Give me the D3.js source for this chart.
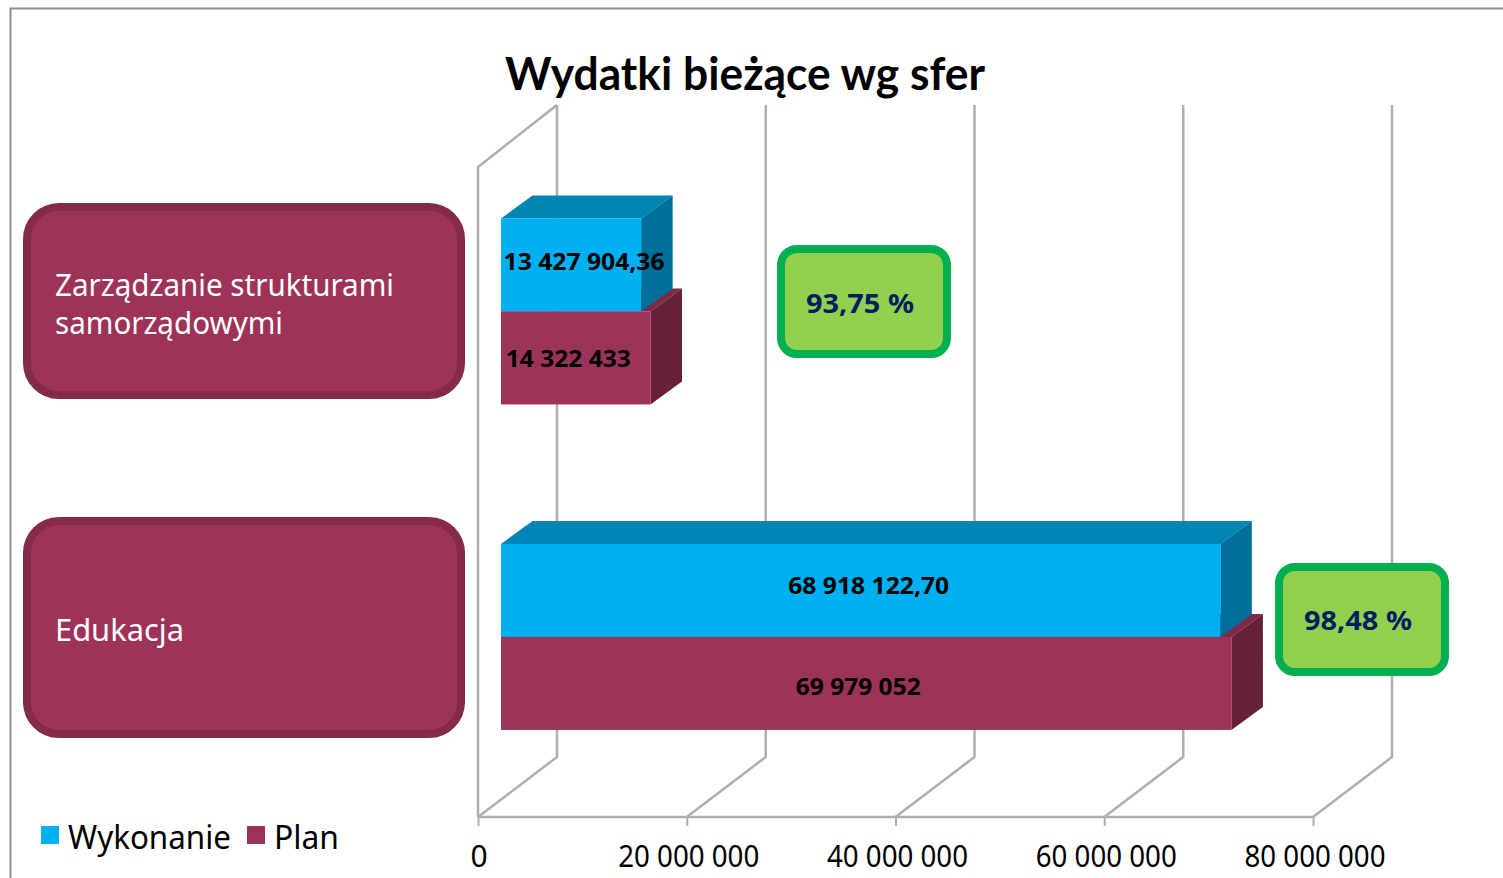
<!DOCTYPE html>
<html><head><meta charset="utf-8">
<style>html,body{margin:0;padding:0;background:#fff;overflow:hidden}svg{display:block}</style>
<script src="https://cdn.jsdelivr.net/npm/d3@7/dist/d3.min.js"></script></head>
<body><svg id="c" width="1503" height="878"></svg>
<script>
const categories = ["Zarządzanie strukturami samorządowymi", "Edukacja"];
const categoryLines = [["Zarządzanie strukturami", "samorządowymi"], ["Edukacja"]];
const seriesNames = ["Wykonanie", "Plan"];
const wykonanie = [13427904.36, 68918122.70];
const plan = [14322433, 69979052];
const wykonanieLabels = ["13 427 904,36", "68 918 122,70"];
const planLabels = ["14 322 433", "69 979 052"];
const percentLabels = ["93,75 %", "98,48 %"];
const tickValues = [0, 20000000, 40000000, 60000000, 80000000];
const tickLabels = ["0", "20 000 000", "40 000 000", "60 000 000", "80 000 000"];

const svg = d3.select("#c");
const FONT = "'Noto Sans','Open Sans',sans-serif";
const x = d3.scaleLinear().domain([0, 80000000]).range([478, 1313]);
const y = d3.scaleBand().domain(categories).range([148.7, 799.7]).paddingInner(0.4286).paddingOuter(0.2143);
const yS = d3.scaleBand().domain(seriesNames).range([0, y.bandwidth()]);
const wallDx = 79, wallDy = -60, floorY = 817, wallTop = 105;
const barX0 = 23, barDx = 31.5, barDy = -23;
const GRID = "#aeaeae";

function fit(sel, w, anchor) {
  return sel.attr("textLength", w).attr("lengthAdjust", "spacingAndGlyphs").attr("text-anchor", anchor || "start");
}

// outer frame
svg.append("path").attr("d", "M10.5,878V8.5H1503").attr("fill", "none").attr("stroke", "#8c8c8c").attr("stroke-width", 2);

// title
fit(svg.append("text").attr("x", 505).attr("y", 89.5).text("Wydatki bieżące wg sfer")
  .attr("font-family", "Lato,'Open Sans',sans-serif").attr("font-weight", 700).attr("font-size", 45).attr("fill", "#000"), 480);

// walls and gridlines
const grid = svg.append("g").attr("fill", "none").attr("stroke", GRID).attr("stroke-width", 2.5);
tickValues.forEach(v => {
  grid.append("path").attr("d", d3.line()([[x(v), floorY], [x(v) + wallDx, floorY + wallDy], [x(v) + wallDx, wallTop]]));
});
grid.append("path").attr("d", d3.line()([[x(0), floorY], [x(0), 167], [x(0) + wallDx, wallTop]]));

// axis
const axis = d3.axisBottom(x).tickValues(tickValues).tickSize(9).tickPadding(20)
  .tickFormat((d, i) => tickLabels[i]);
const ax = svg.append("g").attr("transform", `translate(0,${floorY})`).call(axis);
ax.select(".domain").attr("stroke", GRID).attr("stroke-width", 2.5).attr("d", `M${x(0)},0H${x(80000000)}`);
ax.selectAll(".tick line").attr("stroke", GRID).attr("stroke-width", 2);
ax.selectAll(".tick text").attr("font-family", FONT).attr("font-size", 30).attr("fill", "#000")
  .attr("dx", (d, i) => i ? 1.5 : 0.5)
  .each(function (d, i) { if (i) fit(d3.select(this), 141, "middle"); });

// 3D bars
const x0 = x(0) + barX0;
function top3d(g, v, yTop, c) {
  const x1 = x(v) + barX0;
  g.append("path").attr("fill", c).attr("d", d3.line()([[x0, yTop], [x0 + barDx, yTop + barDy], [x1 + barDx, yTop + barDy], [x1, yTop]]) + "Z");
}
function side3d(g, v, yTop, h, c) {
  const x1 = x(v) + barX0;
  g.append("path").attr("fill", c).attr("d", d3.line()([[x1, yTop], [x1 + barDx, yTop + barDy], [x1 + barDx, yTop + h + barDy], [x1, yTop + h]]) + "Z");
}
function front3d(g, v, yTop, h, c) {
  g.append("rect").attr("x", x0).attr("y", yTop).attr("width", x(v) + barX0 - x0).attr("height", h).attr("fill", c);
}
const barsG = svg.append("g");
categories.forEach((c, i) => {
  const g = barsG.append("g");
  const yW = y(c) + yS("Wykonanie"), yP = y(c) + yS("Plan"), h = yS.bandwidth();
  top3d(g, plan[i], yP, "#7c2a48");
  top3d(g, wykonanie[i], yW, "#0085b5");
  side3d(g, wykonanie[i], yW, h, "#006f9b");
  front3d(g, wykonanie[i], yW, h, "#00b0f0");
  side3d(g, plan[i], yP, h, "#662039");
  front3d(g, plan[i], yP, h, "#9c3358");
});

// bar value labels
const wykShift = [13, 8], planShift = [-7.5, -8], wykBase = [52, 50], planBase = [56, 58];
categories.forEach((c, i) => {
  const lab = (t, cx, by, w) => fit(svg.append("text").text(t).attr("x", cx).attr("y", by)
    .attr("font-family", FONT).attr("font-weight", 700).attr("font-size", 23).attr("fill", "#000"), w, "middle");
  lab(wykonanieLabels[i], x0 + (x(wykonanie[i]) - x(0)) / 2 + wykShift[i], y(c) + yS("Wykonanie") + wykBase[i], 161);
  lab(planLabels[i], x0 + (x(plan[i]) - x(0)) / 2 + planShift[i], y(c) + yS("Plan") + planBase[i], 125);
});

// category pills
const pillY = [207, 521], pillH = [188, 213];
const lineBase = [[296, 334], [640.5]], lineW = [[339, 228], [129]];
categories.forEach((c, i) => {
  svg.append("rect").attr("x", 27).attr("y", pillY[i]).attr("width", 434).attr("height", pillH[i]).attr("rx", 32)
    .attr("fill", "#9e3359").attr("stroke", "#842a4a").attr("stroke-width", 8);
  categoryLines[i].forEach((t, j) => {
    fit(svg.append("text").text(t).attr("x", 55).attr("y", lineBase[i][j]).attr("font-family", FONT)
      .attr("font-size", 30).attr("fill", "#fff"), lineW[i][j]);
  });
});

// percentage boxes
const boxX = [781, 1279], boxY = [249, 567], pctX = [806, 1304], pctY = [313, 630];
percentLabels.forEach((t, i) => {
  svg.append("rect").attr("x", boxX[i]).attr("y", boxY[i]).attr("width", 166).attr("height", 105).attr("rx", 16)
    .attr("fill", "#92d050").attr("stroke", "#00b050").attr("stroke-width", 8);
  fit(svg.append("text").text(t).attr("x", pctX[i]).attr("y", pctY[i]).attr("font-family", FONT)
    .attr("font-weight", 700).attr("font-size", 27).attr("fill", "#002060"), 108);
});

// legend
const legColors = ["#00b0f0", "#9c3358"], legX = [41, 247], legW = [163, 65];
seriesNames.forEach((s, i) => {
  svg.append("rect").attr("x", legX[i]).attr("y", 826).attr("width", 18).attr("height", 18).attr("fill", legColors[i]);
  fit(svg.append("text").text(s).attr("x", legX[i] + 27).attr("y", 849).attr("font-family", FONT)
    .attr("font-size", 32).attr("fill", "#000"), legW[i]);
});
</script></body></html>
